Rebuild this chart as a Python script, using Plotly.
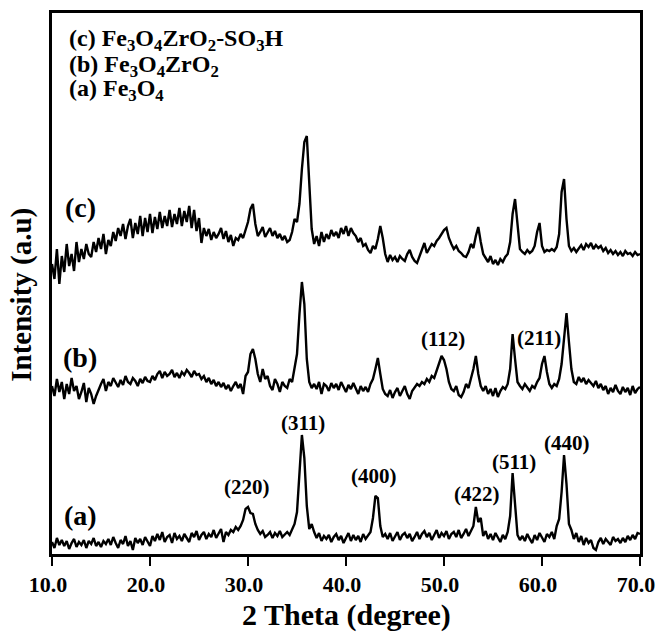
import numpy as np
import plotly.graph_objects as go

# 2-theta sampling grid (degrees), 0.25 deg steps from 10 to 70
two_theta = np.round(np.arange(10.0, 70.001, 0.25), 2)

# (a) Fe3O4  (arbitrary intensity units)
fe3o4 = [
    12, 6, 16, 9,   14, 8, 13, 5,   11, 15, 7, 12,   9, 14, 6, 13,
    10, 16, 8, 12,  7, 13, 10, 15,  9, 17, 11, 6,   14, 10, 18, 8,
    13, 4, 16, 11,  15, 9, 17, 12,  8, 18, 13, 20,  14, 22, 12, 17,
    19, 11, 21, 15, 18, 13, 20, 16, 12, 21, 17, 23, 14, 19, 22, 15,
    20, 17, 24, 16, 21, 25, 12, 22, 19, 24, 22, 27, 24, 28, 34, 45,
    47, 41, 40, 30, 24, 20, 23, 17, 19, 22, 16, 21, 18, 23, 17, 20,
    22, 19, 24, 30, 42, 85, 119, 96, 48, 25, 30, 22, 16, 21, 13, 18,
    15, 19, 12, 17, 20, 14, 18, 11, 16, 21, 13, 19, 14, 18, 12, 20,
    15, 19, 22, 36, 58, 56, 28, 17, 20, 15, 21, 13, 18, 22, 14, 19,
    21, 16, 20, 13, 17, 22, 15, 20, 23, 17, 21, 14, 19, 24, 16, 21,
    18, 23, 15, 20, 22, 17, 24, 16, 20, 25, 18, 23, 28, 47, 32, 36,
    18, 23, 15, 20, 14, 21, 17, 12, 19, 15, 22, 38, 81, 48, 19, 14,
    18, 13, 20, 15, 11, 19, 14, 21, 16, 12, 20, 17, 22, 15, 28, 35,
    62, 99, 70, 30, 24, 15, 21, 12, 18, 9, 16, 11, 14, 6, 4, 12,
    16, 10, 15, 12, 9, 17, 13, 15, 11, 16, 12, 18, 14, 19, 15, 21,
    20,
]

# (b) Fe3O4ZrO2
fe3o4_zro2 = [
    168, 158, 175, 162, 172, 155, 170, 160, 176, 163, 168, 155, 162, 171, 152, 166,
    160, 150, 158, 165, 170, 175, 163, 172, 168, 176, 171, 167, 174, 169, 178, 172,
    170, 176, 173, 168, 175, 171, 177, 173, 172, 178, 174, 180, 183, 176, 182, 178,
    180, 184, 177, 181, 176, 182, 179, 184, 181, 177, 183, 179, 180, 175, 178, 172,
    176, 170, 174, 168, 172, 167, 171, 165, 169, 163, 168, 172, 166, 170, 160, 178,
    182, 200, 205, 195, 180, 172, 185, 175, 178, 168, 164, 175, 170, 162, 172, 168,
    166, 175, 172, 185, 200, 240, 272, 250, 195, 172, 166, 170, 165, 172, 160, 170,
    168, 163, 171, 166, 170, 164, 172, 167, 162, 169, 165, 171, 166, 160, 168, 163,
    167, 162, 170, 175, 185, 196, 180, 165, 160, 158, 164, 156, 162, 166, 158, 163,
    168, 160, 155, 163, 166, 170, 168, 172, 170, 175, 172, 178, 176, 183, 190, 198,
    194, 185, 172, 165, 163, 168, 159, 157, 162, 170, 166, 175, 185, 198, 180, 168,
    163, 168, 160, 165, 158, 166, 157, 163, 167, 165, 170, 185, 220, 195, 172, 168,
    165, 170, 167, 163, 168, 166, 172, 176, 190, 198, 182, 170, 166, 170, 168, 175,
    190, 215, 241, 212, 185, 172, 170, 177, 172, 176, 170, 174, 171, 168, 173, 166,
    170, 164, 168, 160, 166, 162, 169, 163, 160, 167, 162, 166, 159, 168, 161, 165,
    167,
]

# (c) Fe3O4ZrO2-SO3H
fe3o4_zro2_so3h = [
    290, 275, 305, 270, 298, 282, 310, 288, 300, 283, 312, 292, 305, 295, 310, 300,
    297, 312, 302, 316, 305, 320, 300, 314, 308, 322, 313, 326, 318, 330, 315, 328,
    335, 316, 331, 320, 338, 318, 336, 322, 340, 321, 337, 325, 342, 326, 338, 328,
    344, 327, 340, 330, 346, 328, 343, 332, 348, 326, 344, 323, 336, 311, 326, 318,
    325, 314, 322, 316, 320, 326, 315, 323, 312, 319, 308, 316, 314, 320, 316, 325,
    332, 345, 350, 330, 318, 322, 327, 317, 321, 326, 318, 323, 316, 320, 314, 318,
    312, 314, 322, 335, 332, 350, 385, 412, 418, 365, 325, 310, 318, 308, 322, 312,
    320, 315, 324, 318, 322, 316, 326, 320, 328, 318, 326, 321, 318, 312, 316, 308,
    310, 304, 301, 308, 305, 315, 328, 316, 300, 292, 299, 294, 297, 292, 298, 295,
    293, 300, 304, 297, 293, 291, 298, 303, 311, 301, 306, 310, 308, 313, 316, 320,
    324, 326, 316, 310, 305, 308, 303, 301, 298, 297, 302, 310, 306, 318, 327, 312,
    300, 296, 292, 298, 290, 294, 289, 295, 292, 297, 300, 312, 340, 355, 330, 305,
    302, 300, 304, 301, 303, 308, 322, 331, 308, 302, 304, 303, 305, 303, 307, 320,
    362, 375, 335, 308, 303, 306, 302, 305, 309, 304, 310, 307, 311, 305, 309, 306,
    308, 303, 306, 301, 304, 300, 303, 299, 302, 298, 303, 300, 301, 298, 302, 299,
    300,
]

tick_vals = [10, 20, 30, 40, 50, 60, 70]
tick_text = ["10.0", "20.0", "30.0", "40.0", "50.0", "60.0", "70.0"]

# peak labels: (text, 2theta, intensity)
peak_labels = ["(220)", "(311)", "(400)", "(422)", "(511)", "(440)", "(112)", "(211)"]
peak_x = [29.9, 35.6, 42.9, 53.4, 57.1, 62.6, 49.9, 59.7]
peak_y = [67, 131, 78, 60, 92, 111, 215, 216]

curve_labels = ["(a)", "(b)", "(c)"]
curve_label_x = [12.9, 12.9, 12.9]
curve_label_y = [39, 197, 347]

legend_lines = [
    "(c) Fe<sub>3</sub>O<sub>4</sub>ZrO<sub>2</sub>-SO<sub>3</sub>H",
    "(b) Fe<sub>3</sub>O<sub>4</sub>ZrO<sub>2</sub>",
    "(a) Fe<sub>3</sub>O<sub>4</sub>",
]
legend_y = [514, 488, 464]

FONT = "Liberation Serif, Times New Roman, serif"

fig = go.Figure()
for name, ys in [("(a) Fe3O4", fe3o4), ("(b) Fe3O4ZrO2", fe3o4_zro2),
                 ("(c) Fe3O4ZrO2-SO3H", fe3o4_zro2_so3h)]:
    fig.add_trace(go.Scatter(x=two_theta, y=ys, mode="lines", name=name,
                             line=dict(color="black", width=2.4),
                             showlegend=False))

annotations = []
for t, x, y in zip(peak_labels, peak_x, peak_y):
    annotations.append(dict(x=x, y=y, xref="x", yref="y", text=t, showarrow=False,
                            font=dict(family=FONT, size=21, color="black", weight="bold")))
for t, x, y in zip(curve_labels, curve_label_x, curve_label_y):
    annotations.append(dict(x=x, y=y, xref="x", yref="y", text=t, showarrow=False,
                            font=dict(family=FONT, size=28, color="black", weight="bold")))
for t, y in zip(legend_lines, legend_y):
    annotations.append(dict(x=11.5, y=y, xref="x", yref="y", text=t, showarrow=False,
                            xanchor="left", yanchor="middle",
                            font=dict(family=FONT, size=24, color="black", weight="bold")))
annotations.append(dict(x=0.5, y=-0.113, xref="paper", yref="paper",
                        text="2 Theta (degree)", showarrow=False, yanchor="middle",
                        font=dict(family=FONT, size=30, color="black", weight="bold")))
annotations.append(dict(x=-0.052, y=0.48, xref="paper", yref="paper",
                        text="Intensity (a.u)", showarrow=False, textangle=-90,
                        xanchor="center", yanchor="middle",
                        font=dict(family=FONT, size=29, color="black", weight="bold")))

fig.update_layout(
    width=657, height=637,
    margin=dict(l=52, r=17, t=13, b=83, autoexpand=False),
    paper_bgcolor="white", plot_bgcolor="white",
    annotations=annotations,
    xaxis=dict(range=[10, 70], tickvals=tick_vals, ticktext=tick_text,
               showline=True, linecolor="black", linewidth=2.5, mirror=True,
               ticks="outside", ticklen=9, tickwidth=2, tickcolor="black",
               showgrid=False, zeroline=False, ticklabeloverflow="allow",
               automargin=False, ticklabelshift=-4,
               tickfont=dict(family=FONT, size=22, color="black", weight="bold")),
    yaxis=dict(range=[0, 541], showline=True, linecolor="black", linewidth=2.5,
               mirror=True, ticks="", showticklabels=False, showgrid=False,
               zeroline=False, automargin=False),
)

fig.write_html("out.html", config={"displayModeBar": False},
               post_script="document.body.style.margin='0';document.body.style.padding='0';")
